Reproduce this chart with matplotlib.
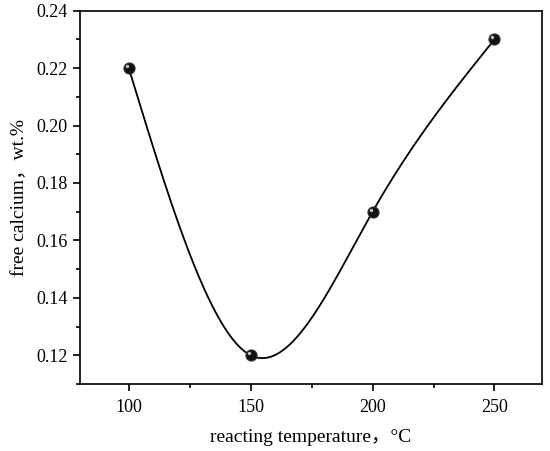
import numpy as np
import matplotlib
matplotlib.use("Agg")
import matplotlib.pyplot as plt
from matplotlib.ticker import MultipleLocator

temperature = [100, 150, 200, 250]
free_calcium = [0.22, 0.12, 0.17, 0.23]

xlabel = "reacting temperature，°C"
ylabel = "free calcium，wt.%"

plt.rcParams['font.family'] = ['Liberation Serif', 'Noto Sans CJK SC']


def natural_spline(x, y, n=300):
    x = np.asarray(x, float)
    y = np.asarray(y, float)
    k = len(x)
    h = np.diff(x)
    A = np.zeros((k, k))
    b = np.zeros(k)
    A[0, 0] = 1
    A[-1, -1] = 1
    for i in range(1, k - 1):
        A[i, i - 1] = h[i - 1]
        A[i, i] = 2 * (h[i - 1] + h[i])
        A[i, i + 1] = h[i]
        b[i] = 3 * ((y[i + 1] - y[i]) / h[i] - (y[i] - y[i - 1]) / h[i - 1])
    c = np.linalg.solve(A, b)
    xs = np.linspace(x[0], x[-1], n)
    ys = np.empty_like(xs)
    for j, xv in enumerate(xs):
        i = min(np.searchsorted(x, xv, side='right') - 1, k - 2)
        bi = (y[i + 1] - y[i]) / h[i] - h[i] * (2 * c[i] + c[i + 1]) / 3
        di = (c[i + 1] - c[i]) / (3 * h[i])
        t = xv - x[i]
        ys[j] = y[i] + bi * t + c[i] * t ** 2 + di * t ** 3
    return xs, ys


fig = plt.figure(figsize=(5.5, 4.51), dpi=100)
ax = fig.add_axes([0.1455, 0.1486, 0.84, 0.8277])

xs, ys = natural_spline(temperature, free_calcium)
ax.plot(xs, ys, color='black', lw=1.3, zorder=2)
ax.plot(temperature, free_calcium, 'o', ms=8, mfc='#111111', mec='#333333', mew=0.8, zorder=3)
ax.plot(temperature, free_calcium, 'o', ms=2.5, mfc='#bbbbbb', mec='none', zorder=4,
        transform=ax.transData + matplotlib.transforms.ScaledTranslation(-1.5/72, 1.5/72, fig.dpi_scale_trans))

ax.set_xlim(80, 269.5)
ax.set_ylim(0.11, 0.24)
ax.xaxis.set_major_locator(MultipleLocator(50))
ax.xaxis.set_minor_locator(MultipleLocator(25))
ax.yaxis.set_major_locator(MultipleLocator(0.02))
ax.yaxis.set_minor_locator(MultipleLocator(0.01))
ax.yaxis.set_major_formatter(matplotlib.ticker.FormatStrFormatter('%.2f'))
ax.tick_params(which='both', direction='out', top=False, right=False, width=1.2)
ax.tick_params(which='major', length=5, labelsize=13, pad=4)
ax.tick_params(axis='x', which='major', pad=6)
ax.tick_params(which='minor', length=3)
for s in ax.spines.values():
    s.set_linewidth(1.2)

ax.set_xlabel(xlabel, fontsize=14, labelpad=9)
ax.set_ylabel(ylabel, fontsize=14, labelpad=6)

fig.savefig('out.png', dpi=100)
